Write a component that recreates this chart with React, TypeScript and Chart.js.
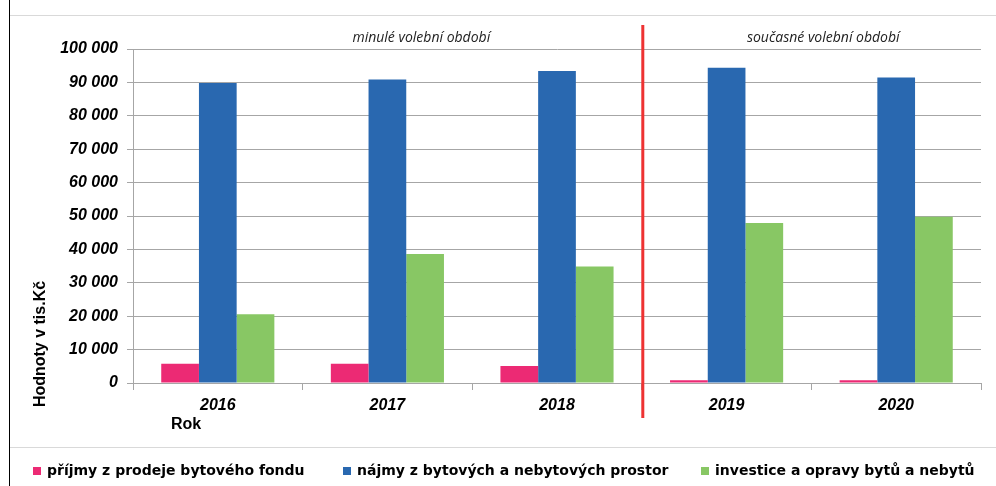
import React, { useEffect, useRef } from "react";
import { Chart, registerables } from "chart.js";

Chart.register(...registerables);

const years = ["2016", "2017", "2018", "2019", "2020"];
const prijmy = [5800, 5800, 5100, 800, 800];
const najmy = [89800, 90900, 93400, 94400, 91500];
const investice = [20600, 38600, 34900, 47900, 49800];
const seriesLabels = [
  "příjmy z prodeje bytového fondu",
  "nájmy z bytových a nebytových prostor",
  "investice a opravy bytů a nebytů",
];
const seriesColors = ["#EC2A74", "#2968B0", "#88C764"];
const yMin = 0;
const yMax = 100000;
const yStep = 10000;
const periodLabels = ["minulé volební období", "současné volební období"];
const yTitle = "Hodnoty v tis.Kč";
const xTitle = "Rok";

const fmt = (v: number) => String(v).replace(/\B(?=(\d{3})+(?!\d))/g, " ");

const decorPlugin = {
  id: "decor",
  beforeDraw(chart: any) {
    const ctx = chart.ctx;
    ctx.save();
    ctx.fillStyle = "#ffffff";
    ctx.fillRect(0, 0, chart.width, chart.height);
    ctx.strokeStyle = "#d9d9d9";
    ctx.lineWidth = 1;
    ctx.beginPath();
    ctx.moveTo(10, 15.5);
    ctx.lineTo(chart.width, 15.5);
    ctx.moveTo(10, 447.5);
    ctx.lineTo(chart.width, 447.5);
    ctx.stroke();
    ctx.strokeStyle = "#000000";
    ctx.beginPath();
    ctx.moveTo(9.5, 0);
    ctx.lineTo(9.5, chart.height);
    ctx.stroke();
    ctx.restore();
  },
  afterDraw(chart: any) {
    const ctx = chart.ctx;
    const xs = chart.scales.x;
    const area = chart.chartArea;
    ctx.save();
    // divider between electoral periods
    const xd = xs.getPixelForValue(2.5) + 1;
    ctx.strokeStyle = "#EE3333";
    ctx.lineWidth = 3;
    ctx.beginPath();
    ctx.moveTo(xd, area.top - 24);
    ctx.lineTo(xd, area.bottom + 35);
    ctx.stroke();
    // period labels
    ctx.fillStyle = "#222222";
    ctx.font = "italic 14px 'Open Sans', sans-serif";
    ctx.textAlign = "center";
    ctx.textBaseline = "middle";
    ctx.fillText(periodLabels[0], xs.getPixelForValue(1.2), 38);
    ctx.fillText(periodLabels[1], xs.getPixelForValue(3.57), 38);
    // axis titles
    ctx.fillStyle = "#000000";
    ctx.font = "bold 16px 'Liberation Sans', Arial, sans-serif";
    ctx.textAlign = "left";
    ctx.fillText(xTitle, 171, 425);
    ctx.save();
    ctx.translate(41, 344);
    ctx.rotate(-Math.PI / 2);
    ctx.textAlign = "center";
    ctx.fillText(yTitle, 0, 0);
    ctx.restore();
    // legend
    const legendX = [33, 343, 701];
    const ly = 471;
    ctx.font = "bold 14px 'DejaVu Sans', sans-serif";
    ctx.textAlign = "left";
    chart.data.datasets.forEach((ds: any, i: number) => {
      ctx.fillStyle = ds.backgroundColor;
      ctx.fillRect(legendX[i], ly - 4, 8, 8);
      ctx.fillStyle = "#000000";
      ctx.fillText(ds.label, legendX[i] + 14, ly);
    });
    ctx.restore();
  },
};

export default function App() {
  const ref = useRef<HTMLCanvasElement | null>(null);
  useEffect(() => {
    document.body.style.margin = "0";
    if (!ref.current) return;
    const tickFont = {
      family: "'Liberation Sans', Arial, sans-serif",
      size: 16,
      weight: "bold" as const,
      style: "italic" as const,
    };
    const chart = new Chart(ref.current, {
      type: "bar",
      data: {
        labels: years,
        datasets: [prijmy, najmy, investice].map((d, i) => ({
          label: seriesLabels[i],
          data: d,
          backgroundColor: seriesColors[i],
          borderWidth: 0,
          categoryPercentage: 0.667,
          barPercentage: 1,
        })),
      },
      options: {
        responsive: false,
        maintainAspectRatio: false,
        devicePixelRatio: 1,
        animation: false,
        layout: { padding: { top: 49, right: 15, left: 0, bottom: 0 } },
        plugins: {
          legend: { display: false },
          tooltip: { enabled: false },
          title: { display: false },
        },
        scales: {
          x: {
            grid: {
              drawOnChartArea: false,
              tickLength: 7,
              color: "#a6a6a6",
              offset: true,
            },
            border: { color: "#a6a6a6" },
            ticks: { font: tickFont, color: "#000000", padding: 6 },
            afterFit: (s: any) => {
              s.height = 103;
            },
          },
          y: {
            min: yMin,
            max: yMax,
            ticks: {
              stepSize: yStep,
              font: tickFont,
              color: "#000000",
              padding: 9,
              callback: (v: any) => fmt(Number(v)),
            },
            grid: { color: "#a6a6a6", tickLength: 6 },
            border: { color: "#a6a6a6" },
            afterFit: (s: any) => {
              s.width = 133;
            },
          },
        },
      },
      plugins: [decorPlugin],
    });
    return () => chart.destroy();
  }, []);
  return (
    <div style={{ position: "absolute", left: 0, top: 0, width: 996, height: 486 }}>
      <canvas ref={ref} width={996} height={486} />
    </div>
  );
}
